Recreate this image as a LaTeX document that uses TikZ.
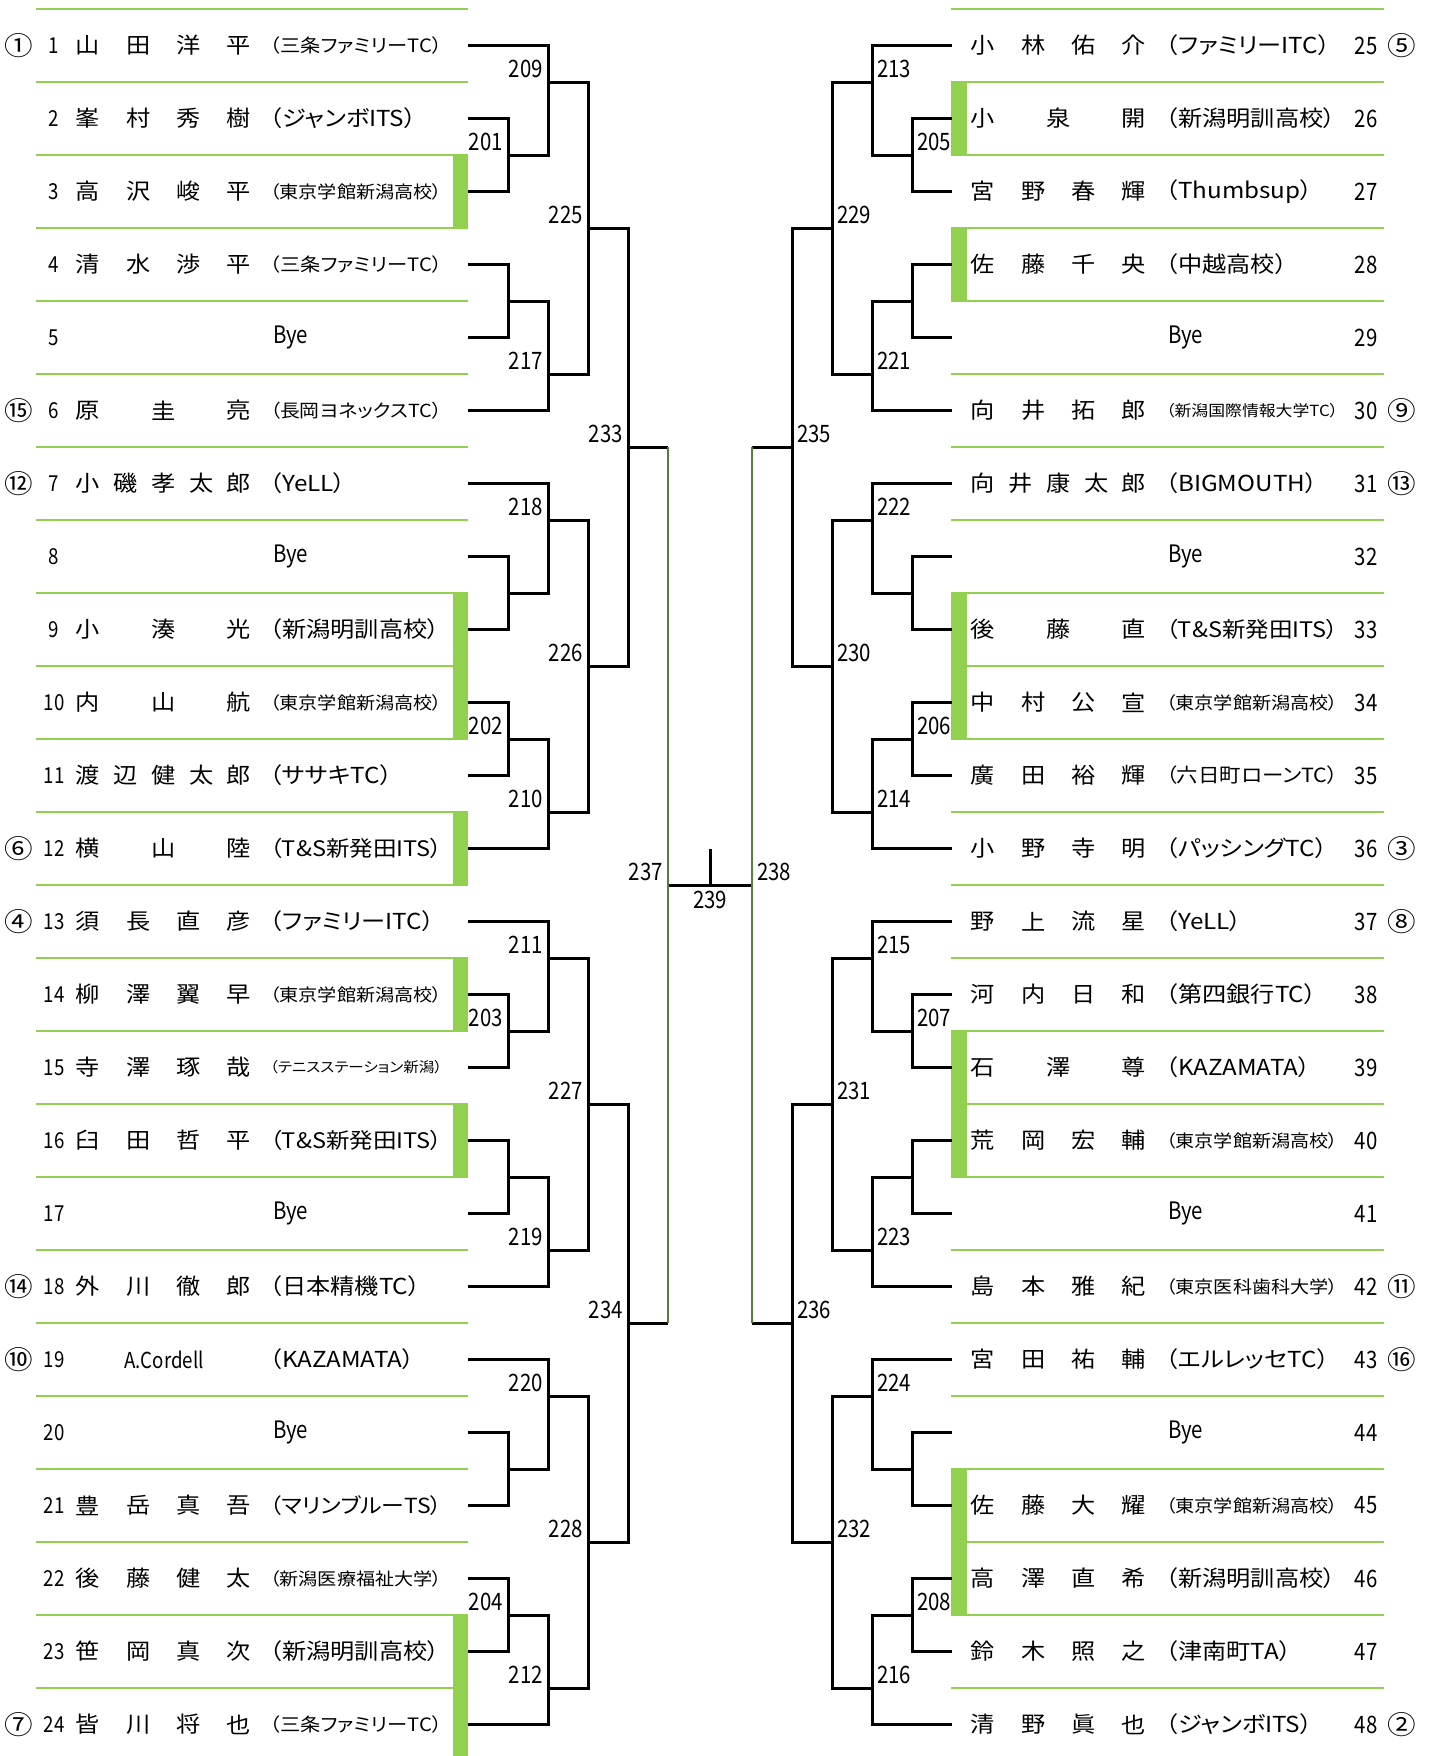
\documentclass[tikz,border=0pt]{standalone}
\usepackage{fontspec}
\setmainfont{Noto Sans CJK JP}[FakeStretch=1.1,RawFeature={+palt}]
\newfontfamily\numfont{Noto Sans CJK JP}[FakeStretch=0.85]
\usepackage{graphicx}
\definecolor{leaf}{RGB}{146,208,80}
\definecolor{moss}{RGB}{84,130,53}
\newsavebox\clubbox
\newcommand\fitclub[1]{\sbox\clubbox{#1}\ifdim\wd\clubbox>172pt\resizebox{172pt}{!}{\usebox\clubbox}\else\usebox\clubbox\fi}
\tikzset{
	every node/.style={inner sep=0pt},
	jp/.style={font=\fontsize{22}{26}\selectfont},
	seed/.style={font=\fontsize{26}{30}\selectfont},
	num/.style={font=\numfont\fontsize{22}{26}\selectfont},
	rnum/.style={font=\numfont\fontsize{24}{28}\selectfont},
	lbl/.style={font=\numfont\fontsize{24}{28}\selectfont},
	sepline/.style={draw=leaf, line width=2.5pt},
	wire/.style={line width=3pt},
	final/.style={draw=moss, line width=2pt}
}

\begin{document}
\begin{tikzpicture}[x=1pt, y=-36.5pt]
		\useasboundingbox (0,-0.2466) rectangle (1432,47.863);
		
		\foreach \k in {0,...,23} {
			\draw[sepline] (36,2*\k) -- (468,2*\k);
			\draw[sepline] (951,2*\k) -- (1384,2*\k);
		}
		\foreach \ya/\yb in {4/6, 16/20, 22/24, 26/28, 30/32, 44/47.863}
			\fill[leaf] (453,\ya) rectangle (468,\yb);
		\foreach \ya/\yb in {2/4, 6/8, 16/20, 28/32, 40/44}
			\fill[leaf] (951,\ya) rectangle (967,\yb);
		
		\foreach \r in {1,...,24} {
			\pgfmathtruncatemacro\q{int((\r-1)/12)+1}
			\pgfmathtruncatemacro\p{\r-12*(\q-1)}
			\coordinate (q\q-\p) at (468,2*\r-1);
			\node[num] (n\r) at (54,2*\r-1) {\r};
		}
		\foreach \r in {25,...,48} {
			\pgfmathtruncatemacro\q{int((\r-1)/12)+1}
			\pgfmathtruncatemacro\p{\r-12*(\q-1)}
			\coordinate (q\q-\p) at (952,2*\r-49);
			\node[rnum] (n\r) at (1366,2*\r-49) {\r};
		}
		
		\foreach \r/\s in {1/①, 6/⑮, 7/⑫, 12/⑥, 13/④, 18/⑭, 19/⑩, 24/⑦}
			\node[seed] (s\r) at (19,2*\r-1) {\s};
		\foreach \r/\s in {25/⑤, 30/⑨, 31/⑬, 36/③, 37/⑧, 42/⑪, 43/⑯, 48/②}
			\node[seed] (s\r) at (1402,2*\r-49) {\s};
		
		\foreach \r/\nm/\cl in {
			1/{山,田,洋,平}/三条ファミリーTC,
			2/{峯,村,秀,樹}/ジャンボITS,
			3/{高,沢,峻,平}/東京学館新潟高校,
			4/{清,水,渉,平}/三条ファミリーTC,
			6/{原,圭,亮}/長岡ヨネックスTC,
			7/{小,磯,孝,太,郎}/YeLL,
			9/{小,湊,光}/新潟明訓高校,
			10/{内,山,航}/東京学館新潟高校,
			11/{渡,辺,健,太,郎}/ササキTC,
			12/{横,山,陸}/T\&S新発田ITS,
			13/{須,長,直,彦}/ファミリーITC,
			14/{柳,澤,翼,早}/東京学館新潟高校,
			15/{寺,澤,琢,哉}/テニスステーション新潟,
			16/{臼,田,哲,平}/T\&S新発田ITS,
			18/{外,川,徹,郎}/日本精機TC,
			21/{豊,岳,真,吾}/マリンブルーTS,
			22/{後,藤,健,太}/新潟医療福祉大学,
			23/{笹,岡,真,次}/新潟明訓高校,
			24/{皆,川,将,也}/三条ファミリーTC} {
			\foreach \c [count=\n] in \nm {\xdef\nn{\n}}
			\foreach \c [count=\i] in \nm
				\node[jp] (p\r-\i) at ({88+(\i-1)*151/(\nn-1)},2*\r-1) {\c};
			\node[jp, anchor=west] (c\r) at (270,2*\r-1) {\fitclub{（\cl）}};
		}
		\node[num] (p19) at (164,37) {A.Cordell};
		\node[jp, anchor=west] (c19) at (270,37) {\fitclub{（KAZAMATA）}};
		
		\foreach \r/\nm/\cl in {
			25/{小,林,佑,介}/ファミリーITC,
			26/{小,泉,開}/新潟明訓高校,
			27/{宮,野,春,輝}/Thumbsup,
			28/{佐,藤,千,央}/中越高校,
			30/{向,井,拓,郎}/新潟国際情報大学TC,
			31/{向,井,康,太,郎}/BIGMOUTH,
			33/{後,藤,直}/T\&S新発田ITS,
			34/{中,村,公,宣}/東京学館新潟高校,
			35/{廣,田,裕,輝}/六日町ローンTC,
			36/{小,野,寺,明}/パッシングTC,
			37/{野,上,流,星}/YeLL,
			38/{河,内,日,和}/第四銀行TC,
			39/{石,澤,尊}/KAZAMATA,
			40/{荒,岡,宏,輔}/東京学館新潟高校,
			42/{島,本,雅,紀}/東京医科歯科大学,
			43/{宮,田,祐,輔}/エルレッセTC,
			45/{佐,藤,大,耀}/東京学館新潟高校,
			46/{高,澤,直,希}/新潟明訓高校,
			47/{鈴,木,照,之}/津南町TA,
			48/{清,野,眞,也}/ジャンボITS} {
			\foreach \c [count=\n] in \nm {\xdef\nn{\n}}
			\foreach \c [count=\i] in \nm
				\node[jp] (p\r-\i) at ({983+(\i-1)*151/(\nn-1)},2*\r-49) {\c};
			\node[jp, anchor=west] (c\r) at (1166,2*\r-49) {\fitclub{（\cl）}};
		}
		
		\foreach \r in {5,8,17,20}
			\node[rnum, anchor=west] (b\r) at (273,2*\r-1) {Bye};
		\foreach \r in {29,32,41,44}
			\node[rnum, anchor=west] (b\r) at (1168,2*\r-49) {Bye};
		
		\foreach \q/\o/\xo/\d/\an/\dx/\la/\lb/\lc/\ld/\le/\lf/\lg/\lh/\li in {
			1/0/468/1/south east/-5pt/201/209/217/225/202/218/210/226/233,
			2/24/468/1/south east/-5pt/203/211/219/227/204/220/212/228/234,
			3/0/952/-1/south west/5pt/205/213/221/229/206/222/214/230/235,
			4/24/952/-1/south west/5pt/207/215/223/231/208/224/216/232/236} {
			\coordinate (m\la) at ({\xo+\d*40},\o+4);
			\coordinate (m\lb) at ({\xo+\d*80},\o+2);
			\coordinate (u\q-a) at ({\xo+\d*40},\o+8);
			\coordinate (m\lc) at ({\xo+\d*80},\o+10);
			\coordinate (m\ld) at ({\xo+\d*120},\o+6);
			\coordinate (u\q-b) at ({\xo+\d*40},\o+16);
			\coordinate (m\le) at ({\xo+\d*40},\o+20);
			\coordinate (m\lf) at ({\xo+\d*80},\o+14);
			\coordinate (m\lg) at ({\xo+\d*80},\o+22);
			\coordinate (m\lh) at ({\xo+\d*120},\o+18);
			\coordinate (m\li) at ({\xo+\d*160},\o+12);
			
			\draw[wire] (q\q-2) -| (m\la) |- (q\q-3);
			\draw[wire] (q\q-4) -| (u\q-a) |- (q\q-5);
			\draw[wire] (q\q-1) -| (m\lb) |- (m\la);
			\draw[wire] (u\q-a) -| (m\lc) |- (q\q-6);
			\draw[wire] (m\lb) -| (m\ld) |- (m\lc);
			\draw[wire] (q\q-8) -| (u\q-b) |- (q\q-9);
			\draw[wire] (q\q-10) -| (m\le) |- (q\q-11);
			\draw[wire] (q\q-7) -| (m\lf) |- (u\q-b);
			\draw[wire] (m\le) -| (m\lg) |- (q\q-12);
			\draw[wire] (m\lf) -| (m\lh) |- (m\lg);
			\draw[wire] (m\ld) -| (m\li) |- (m\lh);
			
			\foreach \m in {\la,\lb,\lc,\ld,\le,\lf,\lg,\lh,\li}
				\node[lbl, anchor=\an, xshift=\dx, yshift=4pt] (t\m) at (m\m) {\m};
		}
		
		\coordinate (m237) at (668,24);
		\coordinate (m238) at (752,24);
		\coordinate (m239) at (710,24);
		\draw[wire] (m233) -- (m233 -| m237);
		\draw[wire] (m234) -- (m234 -| m237);
		\draw[wire] (m235) -- (m235 -| m238);
		\draw[wire] (m236) -- (m236 -| m238);
		\draw[wire] (m237) -- (m238);
		\draw[wire] (m239) -- ++(0,-1);
		\draw[final] (m233 -| m237) -- (m234 -| m237);
		\draw[final] (m235 -| m238) -- (m236 -| m238);
		
		\node[lbl, anchor=south east, xshift=-5pt, yshift=4pt] (t237) at (m237) {237};
		\node[lbl, anchor=south west, xshift=5pt, yshift=4pt] (t238) at (m238) {238};
		\node[lbl, anchor=north, yshift=-6pt] (t239) at (m239) {239};
	\end{tikzpicture}
\end{document}
